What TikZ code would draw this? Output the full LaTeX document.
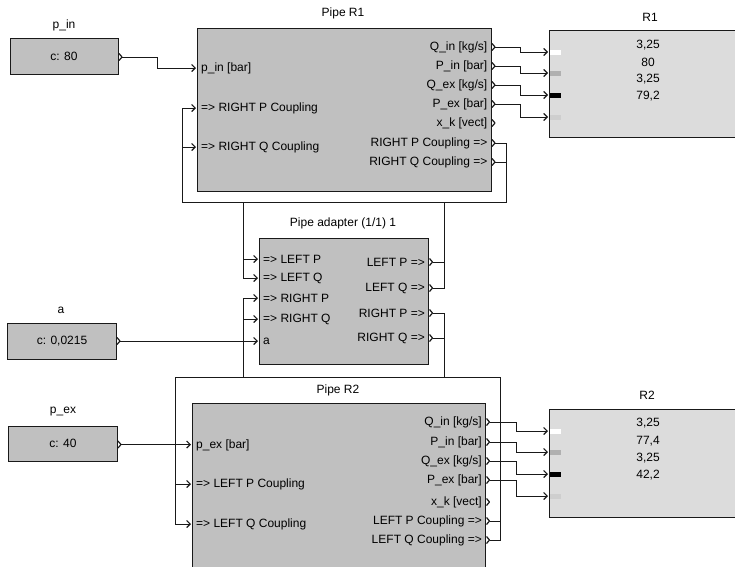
\documentclass[tikz,border=0pt]{standalone}
\usepackage{fontspec}
\setmainfont{Liberation Sans}
\usetikzlibrary{arrows.meta}
\definecolor{blkgray}{RGB}{192,192,192}
\definecolor{dispgray}{RGB}{220,220,220}
\definecolor{lnc}{RGB}{25,25,25}
\definecolor{mkgray}{RGB}{176,176,176}
\definecolor{mklight}{RGB}{206,206,206}
\begin{document}
\begin{tikzpicture}[x=1pt,y=-1pt, font=\fontsize{12}{14}\selectfont,
  blk/.style={draw=lnc, fill=blkgray, line width=0.9pt, inner sep=0pt, anchor=north west},
  disp/.style={draw=lnc, fill=dispgray, line width=0.9pt, inner sep=0pt, anchor=north west},
  ttl/.style={inner sep=0pt},
  inl/.style={anchor=west, inner sep=0pt},
  outl/.style={anchor=east, inner sep=0pt},
  valtxt/.style={inner sep=0pt},
  wire/.style={draw=lnc, line width=0.9pt, -{Straight Barb[length=3.5pt,width=7pt,line width=1.2pt]}},
  outchev/.pic={\draw[lnc, line width=1.2pt, line join=round] (0,-3.5) -- (3,0) -- (0,3.5);},
]
\useasboundingbox (0,0) rectangle (735,566);
\clip (0,0) rectangle (735,566);

% ---------- constants ----------
\node[ttl] (pin-t) at (64,25) {p\_in};
\node[blk, minimum width=108.5pt, minimum height=36pt] (pin) at (9.5,38) {};
\node[valtxt] (pin-v) at (64,56.5) {c: 80};
\coordinate (pin-o) at (119,57);

\node[ttl] (a-t) at (61,310) {a};
\node[blk, minimum width=109pt, minimum height=36pt] (a) at (7,323) {};
\node[valtxt] (a-v) at (62,341) {c: 0,0215};
\coordinate (a-o) at (117,341);

\node[ttl] (pex-t) at (63,412) {p\_ex};
\node[blk, minimum width=109pt, minimum height=35pt] (pex) at (8,426) {};
\node[valtxt] (pex-v) at (63,443.5) {c: 40};
\coordinate (pex-o) at (118,444.5);

% ---------- Pipe R1 ----------
\node[ttl] (r1-t) at (343,13) {Pipe R1};
\node[blk, minimum width=294pt, minimum height=163pt] (r1) at (197,28) {};
\coordinate (r1-i1) at (196,68);
\coordinate (r1-i2) at (196,108);
\coordinate (r1-i3) at (196,147);
\node[inl] at (201,68) {p\_in [bar]};
\node[inl] at (201,108) {=> RIGHT P Coupling};
\node[inl] at (201,147) {=> RIGHT Q Coupling};
\foreach \k/\y/\t in {1/47/{Q\_in [kg/s]},2/66/{P\_in [bar]},3/85/{Q\_ex [kg/s]},4/104/{P\_ex [bar]},5/123/{x\_k [vect]},6/143/{RIGHT P Coupling =>},7/162/{RIGHT Q Coupling =>}}{
  \coordinate (r1-o\k) at (492,\y);
  \node[outl] (r1-ol\k) at (487.5,\y) {\t};
  \pic at (r1-o\k) {outchev};
}

% ---------- R1 display ----------
\node[ttl] (d1-t) at (650,17) {R1};
\node[disp, minimum width=191pt, minimum height=107pt] (d1) at (549,30) {};
\foreach \k/\y/\c in {1/52/white,2/73/mkgray,3/95/black,4/117/mklight}{
  \coordinate (d1-i\k) at (548,\y);
  \fill[\c] (550,\y-2.5) rectangle (561,\y+2.5);
}
\foreach \y/\t in {45/{3,25},62/80,79/{3,25},96/{79,2}}{
  \node[valtxt] at (648,\y) {\t};
}

% ---------- Pipe adapter ----------
\node[ttl] (ad-t) at (343,223) {Pipe adapter (1/1) 1};
\node[blk, minimum width=169pt, minimum height=126pt] (ad) at (259,238) {};
\foreach \k/\y/\t in {1/259/{=> LEFT P},2/278/{=> LEFT Q},3/298/{=> RIGHT P},4/319/{=> RIGHT Q},5/341/a}{
  \coordinate (ad-i\k) at (258,\y);
  \node[inl] (ad-il\k) at (263,\y) {\t};
}
\foreach \k/\y/\t in {1/262/{LEFT P =>},2/288/{LEFT Q =>},3/313/{RIGHT P =>},4/338/{RIGHT Q =>}}{
  \coordinate (ad-o\k) at (429.5,\y);
  \node[outl] (ad-ol\k) at (425,\y) {\t};
  \pic at (ad-o\k) {outchev};
}

% ---------- Pipe R2 ----------
\node[ttl] (r2-t) at (338,390) {Pipe R2};
\node[blk, minimum width=293pt, minimum height=180pt] (r2) at (192,403) {};
\coordinate (r2-i1) at (191,444.5);
\coordinate (r2-i2) at (191,484);
\coordinate (r2-i3) at (191,524);
\node[inl] at (196,445) {p\_ex [bar]};
\node[inl] at (196,484) {=> LEFT P Coupling};
\node[inl] at (196,524) {=> LEFT Q Coupling};
\foreach \k/\y/\t in {1/422/{Q\_in [kg/s]},2/442/{P\_in [bar]},3/461/{Q\_ex [kg/s]},4/480/{P\_ex [bar]},5/502/{x\_k [vect]},6/521/{LEFT P Coupling =>},7/540/{LEFT Q Coupling =>}}{
  \coordinate (r2-o\k) at (486.5,\y);
  \node[outl] (r2-ol\k) at (482,\y) {\t};
  \pic at (r2-o\k) {outchev};
}

% ---------- R2 display ----------
\node[ttl] (d2-t) at (647,395) {R2};
\node[disp, minimum width=191pt, minimum height=108pt] (d2) at (549,409) {};
\foreach \k/\y/\c in {1/431/white,2/452/mkgray,3/474/black,4/496/mklight}{
  \coordinate (d2-i\k) at (548,\y);
  \fill[\c] (550,\y-2.5) rectangle (561,\y+2.5);
}
\foreach \y/\t in {423/{3,25},441/{77,4},458/{3,25},475/{42,2}}{
  \node[valtxt] at (648,\y) {\t};
}

% ---------- constant output ports ----------
\pic at (pin-o) {outchev};
\pic at (a-o) {outchev};
\pic at (pex-o) {outchev};

% ---------- wires ----------
\draw[wire] ([xshift=3pt]pin-o) -| (157,68) -- (r1-i1);
\draw[wire] ([xshift=3pt]a-o) -- (ad-i5);
\draw[wire] ([xshift=3pt]pex-o) -- (r2-i1);

\draw[wire] ([xshift=3pt]r1-o1) -| (520,52) -- (d1-i1);
\draw[wire] ([xshift=3pt]r1-o2) -| (520,73) -- (d1-i2);
\draw[wire] ([xshift=3pt]r1-o3) -| (520,95) -- (d1-i3);
\draw[wire] ([xshift=3pt]r1-o4) -| (520,117) -- (d1-i4);

\draw[wire] ([xshift=3pt]r2-o1) -| (516,431) -- (d2-i1);
\draw[wire] ([xshift=3pt]r2-o2) -| (516,452) -- (d2-i2);
\draw[wire] ([xshift=3pt]r2-o3) -| (516,474) -- (d2-i3);
\draw[wire] ([xshift=3pt]r2-o4) -| (516,496) -- (d2-i4);

\draw[wire] ([xshift=3pt]r1-o6) -| (506,202) -| (243,259) -- (ad-i1);
\draw[wire] ([xshift=3pt]r1-o7) -| (506,202) -| (243,278) -- (ad-i2);
\draw[wire] ([xshift=3pt]ad-o1) -| (444,202) -| (182,108) -- (r1-i2);
\draw[wire] ([xshift=3pt]ad-o2) -| (444,202) -| (182,147) -- (r1-i3);
\draw[wire] ([xshift=3pt]ad-o3) -| (444,377) -| (175,484) -- (r2-i2);
\draw[wire] ([xshift=3pt]ad-o4) -| (444,377) -| (175,524) -- (r2-i3);
\draw[wire] ([xshift=3pt]r2-o6) -| (500,377) -| (243,298) -- (ad-i3);
\draw[wire] ([xshift=3pt]r2-o7) -| (500,377) -| (243,319) -- (ad-i4);
\end{tikzpicture}
\end{document}
